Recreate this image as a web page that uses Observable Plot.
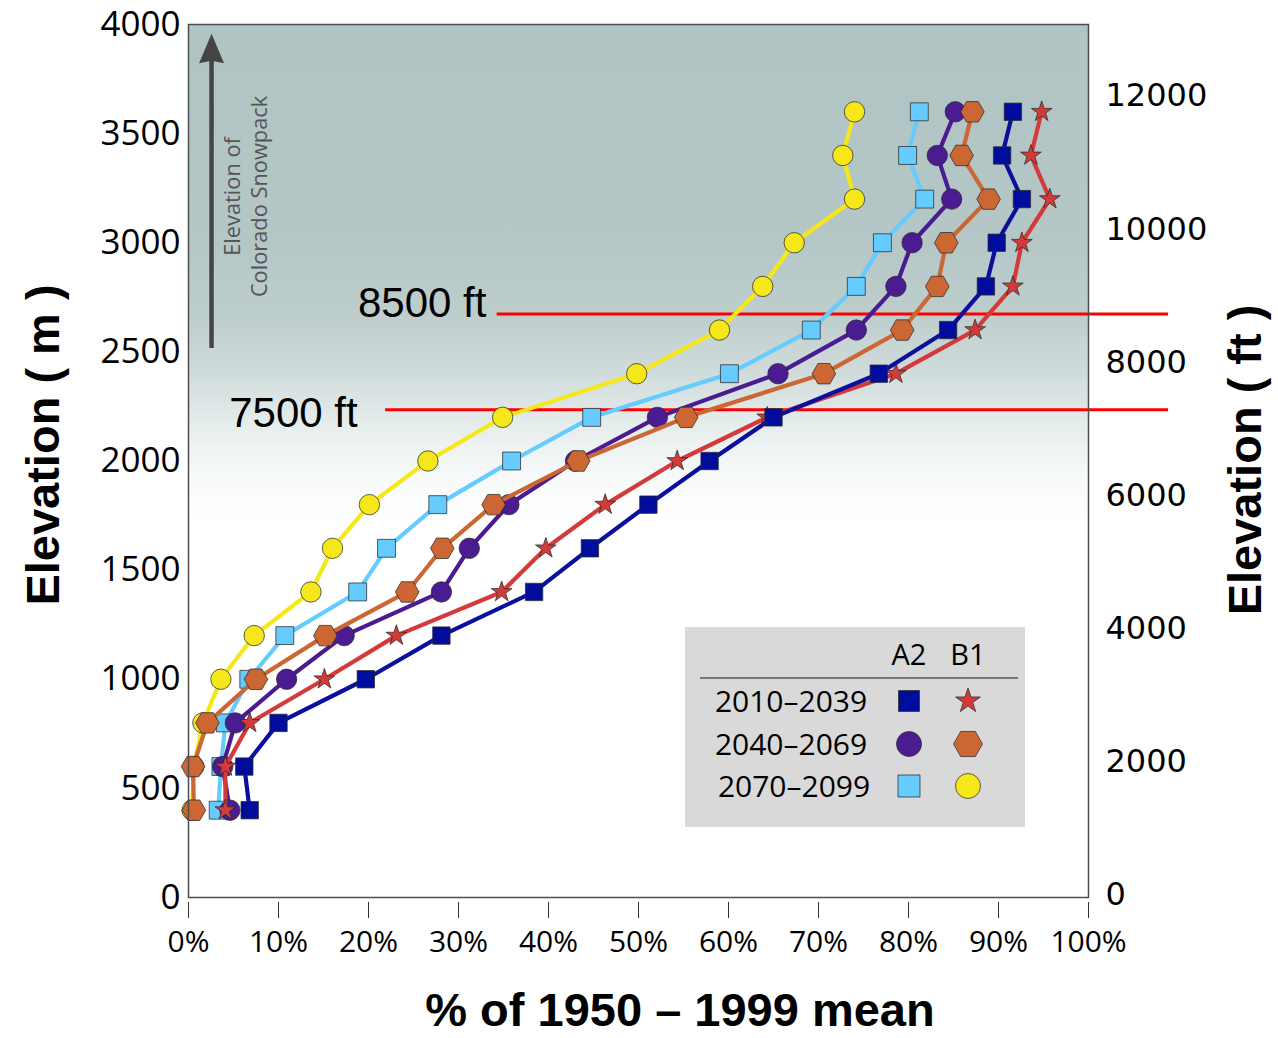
<!DOCTYPE html>
<html>
<head>
<meta charset="utf-8">
<script src="https://cdn.jsdelivr.net/npm/d3@7"></script>
<script src="https://cdn.jsdelivr.net/npm/@observablehq/plot@0.6"></script>
<style>
  html, body { margin: 0; padding: 0; background: #ffffff; }
  #chart { position: absolute; left: 0; top: 0; }
</style>
</head>
<body>
<div id="chart"></div>
<script>
// ---------------- data ----------------
const elevations = [400, 600, 800, 1000, 1200, 1400, 1600, 1800, 2000, 2200, 2400, 2600, 2800, 3000, 3200, 3400, 3600];

const a2_2010_2039 = [6.8, 6.2, 10.0, 19.7, 28.1, 38.4, 44.6, 51.1, 57.9, 65.0, 76.7, 84.4, 88.6, 89.8, 92.6, 90.4, 91.6];
const b1_2010_2039 = [4.1, 4.1, 6.8, 15.1, 23.1, 34.8, 39.7, 46.3, 54.3, 64.3, 78.6, 87.4, 91.6, 92.6, 95.7, 93.6, 94.8];
const a2_2040_2069 = [4.6, 3.8, 5.2, 10.9, 17.3, 28.1, 31.2, 35.6, 43.0, 52.1, 65.5, 74.2, 78.6, 80.4, 84.8, 83.2, 85.2];
const b1_2040_2069 = [0.6, 0.5, 2.1, 7.5, 15.2, 24.3, 28.2, 33.9, 43.3, 55.3, 70.6, 79.3, 83.2, 84.2, 88.9, 85.9, 87.1];
const a2_2070_2099 = [3.3, 3.6, 4.1, 6.7, 10.7, 18.8, 22.0, 27.7, 35.9, 44.8, 60.1, 69.2, 74.2, 77.1, 81.8, 79.9, 81.2];
const b1_2070_2099 = [0.4, 0.6, 1.6, 3.6, 7.3, 13.6, 16.0, 20.1, 26.6, 34.9, 49.8, 59.0, 63.8, 67.3, 74.0, 72.7, 74.0];

const xTicks = [0, 10, 20, 30, 40, 50, 60, 70, 80, 90, 100];
const yTicksM = [0, 500, 1000, 1500, 2000, 2500, 3000, 3500, 4000];
const yTicksFt = [0, 2000, 4000, 6000, 8000, 10000, 12000];
const FT = 0.3048;

const periods = ["2010–2039", "2040–2069", "2070–2099"];
const scenarios = ["A2", "B1"];

const titleLeft = "Elevation ( m )";
const titleRight = "Elevation ( ft )";
const titleBottom = "% of 1950 – 1999 mean";

// reference lines (as drawn in the picture)
const refLabels = ["8500 ft", "7500 ft"];
const refElev = [2674, 2235];
const refStart = [34.3, 21.9];
const refEnd = [108.9, 108.9];
const refLabelX = [33.1, 18.8];
const refLabelY = [2722, 2218];

// snowpack arrow note
const noteLines = ["Elevation of", "Colorado Snowpack"];
const noteX = [4.9, 8.0];
const noteY = 3212;
const arrowX = 2.56;
const arrowBottom = 2515;
const arrowHeadBase = 3840;
const arrowTip = 3958;

// ---------------- symbols ----------------
const hexFlat = {
  draw(ctx, size) {
    const r = Math.sqrt(size / Math.PI);
    const h = r * Math.sqrt(3) / 2;
    ctx.moveTo(r, 0);
    ctx.lineTo(r / 2, h);
    ctx.lineTo(-r / 2, h);
    ctx.lineTo(-r, 0);
    ctx.lineTo(-r / 2, -h);
    ctx.lineTo(r / 2, -h);
    ctx.closePath();
  }
};
const arrowHeadSym = {
  draw(ctx) {
    ctx.moveTo(0, 0);
    ctx.lineTo(12.5, 29.5);
    ctx.lineTo(0, 27);
    ctx.lineTo(-12.5, 29.5);
    ctx.closePath();
  }
};

// draw order: bottom -> top
const series = [
  {scenario: "B1", period: "2070–2099", values: b1_2070_2099, fill: "#f6e71a", line: "#f6e71a", symbol: "circle", r: 10.2, lr: 12.5},
  {scenario: "A2", period: "2070–2099", values: a2_2070_2099, fill: "#66ccff", line: "#66ccff", symbol: "square", r: 10.1, lr: 12.4},
  {scenario: "A2", period: "2040–2069", values: a2_2040_2069, fill: "#4b1b91", line: "#4b1b91", symbol: "circle", r: 10.2, lr: 12.5},
  {scenario: "B1", period: "2040–2069", values: b1_2040_2069, fill: "#cc6633", line: "#cc6633", symbol: hexFlat, r: 11.8, lr: 14.5},
  {scenario: "B1", period: "2010–2039", values: b1_2010_2039, fill: "#d43a3a", line: "#d43a3a", symbol: "star", r: 6.5, lr: 7.8},
  {scenario: "A2", period: "2010–2039", values: a2_2010_2039, fill: "#000c9c", line: "#0a0f9e", symbol: "square", r: 9.8, lr: 11.8}
];

function rows(s) { return elevations.map((e, i) => ({elev: e, pct: s.values[i]})); }

const seriesMarks = series.flatMap(s => [
  Plot.line(rows(s), {x: "pct", y: "elev", stroke: s.line, strokeWidth: 4.2, strokeLinejoin: "round"}),
  Plot.dot(rows(s), {x: "pct", y: "elev", symbol: s.symbol, r: s.r, fill: s.fill, stroke: "#2a2a2a", strokeWidth: 1, strokeOpacity: 0.75})
]);

const refRows = refLabels.map((l, i) => ({label: l, elev: refElev[i], x1: refStart[i], x2: refEnd[i], lx: refLabelX[i], ly: refLabelY[i]}));
const noteRows = noteLines.map((t, i) => ({t, x: noteX[i], y: noteY}));

const plot = Plot.plot({
  width: 1278,
  height: 1038,
  marginLeft: 188,
  marginRight: 190,
  marginTop: 24,
  marginBottom: 141,
  style: {background: "transparent", overflow: "visible", fontFamily: "Open Sans, sans-serif", color: "#000"},
  x: {domain: [0, 100]},
  y: {domain: [0, 4000]},
  marks: [
    Plot.frame({fill: "url(#bgGrad)", stroke: null}),
    // snowpack arrow + note
    Plot.ruleX([arrowX], {x: d => d, y1: arrowBottom, y2: arrowHeadBase, stroke: "#454545", strokeWidth: 4.5}),
    Plot.dot([arrowX], {x: d => d, y: arrowTip, symbol: arrowHeadSym, r: 5, fill: "#454545", stroke: "none"}),
    Plot.text(noteRows, {x: "x", y: "y", text: "t", rotate: -90, fontSize: 21.8, fill: "#555", fontFamily: "Open Sans, sans-serif"}),
    // reference lines
    Plot.ruleY(refRows, {y: "elev", x1: "x1", x2: "x2", stroke: "#ff0000", strokeWidth: 3}),
    Plot.text(refRows, {x: "lx", y: "ly", text: "label", textAnchor: "end", fontSize: 42, fill: "#000", fontFamily: "Liberation Sans, Arial, sans-serif"}),
    ...seriesMarks,
    Plot.frame({stroke: "#4d4d4d", strokeWidth: 1.5}),
    Plot.axisY({anchor: "left", ticks: yTicksM, tickFormat: d => String(d), tickSize: 0, tickPadding: 8, fontSize: 35, fontFamily: "Open Sans, sans-serif", label: null}),
    Plot.axisY({anchor: "right", ticks: yTicksFt.map(f => f * FT), tickFormat: d => String(Math.round(d / FT)), tickSize: 0, tickPadding: 17, dy: -3, fontSize: 32, fontFamily: "DejaVu Sans, sans-serif", label: null}),
    Plot.axisX({ticks: xTicks, tickFormat: d => d + "%", tickSize: 16, tickPadding: 12, dy: 5, fontSize: 30, fontFamily: "Open Sans, sans-serif", stroke: "#333", label: null})
  ]
});

// background gradient
d3.select(plot).insert("defs", ":first-child").html(`
  <linearGradient id="bgGrad" x1="0" y1="0" x2="0" y2="1">
    <stop offset="0" stop-color="#b0c4c3"/>
    <stop offset="0.25" stop-color="#b4c7c6"/>
    <stop offset="0.33" stop-color="#bdcdcc"/>
    <stop offset="0.40" stop-color="#d0dcdb"/>
    <stop offset="0.46" stop-color="#e6eded"/>
    <stop offset="0.52" stop-color="#f8fafa"/>
    <stop offset="0.57" stop-color="#ffffff"/>
    <stop offset="1" stop-color="#ffffff"/>
  </linearGradient>`);

// axis titles
const tg = d3.select(plot).append("g")
  .attr("font-family", "Liberation Sans, Arial, sans-serif").attr("font-weight", "bold").attr("font-size", 47)
  .attr("text-anchor", "middle");
tg.append("text").attr("transform", "translate(43,445) rotate(-90)").attr("dy", "0.35em").text(titleLeft);
tg.append("text").attr("transform", "translate(1245,460) rotate(-90)").attr("dy", "0.35em").text(titleRight);
tg.append("text").attr("x", 680).attr("y", 1010).attr("dy", "0.35em").text(titleBottom);

// legend
const lg = d3.select(plot).append("g").attr("class", "legend");
lg.append("rect").attr("x", 685).attr("y", 627).attr("width", 340).attr("height", 200).attr("fill", "#d9d9d9");
const colX = {A2: 909, B1: 968};
const rowY = [701, 744, 786];
scenarios.forEach(sc => {
  lg.append("text").attr("x", colX[sc]).attr("y", 655).attr("text-anchor", "middle").attr("dy", "0.35em")
    .attr("font-family", "Open Sans, sans-serif").attr("font-size", 29).text(sc);
});
lg.append("line").attr("x1", 700).attr("x2", 1018).attr("y1", 678).attr("y2", 678).attr("stroke", "#555").attr("stroke-width", 1.5);
periods.forEach((p, i) => {
  lg.append("text").attr("x", 791 + (i === 2 ? 3 : 0)).attr("y", rowY[i]).attr("text-anchor", "middle").attr("dy", "0.35em")
    .attr("font-family", "Open Sans, sans-serif").attr("font-size", 30).text(p);
  scenarios.forEach(sc => {
    const s = series.find(d => d.scenario === sc && d.period === p);
    const sym = typeof s.symbol === "string" ? {circle: d3.symbolCircle, square: d3.symbolSquare, star: d3.symbolStar}[s.symbol] : s.symbol;
    lg.append("path")
      .attr("transform", `translate(${colX[sc]},${rowY[i]})`)
      .attr("d", d3.symbol(sym, Math.PI * s.lr * s.lr)())
      .attr("fill", s.fill).attr("stroke", "#2a2a2a").attr("stroke-width", 1).attr("stroke-opacity", 0.75);
  });
});

document.getElementById("chart").appendChild(plot);
</script>
</body>
</html>
